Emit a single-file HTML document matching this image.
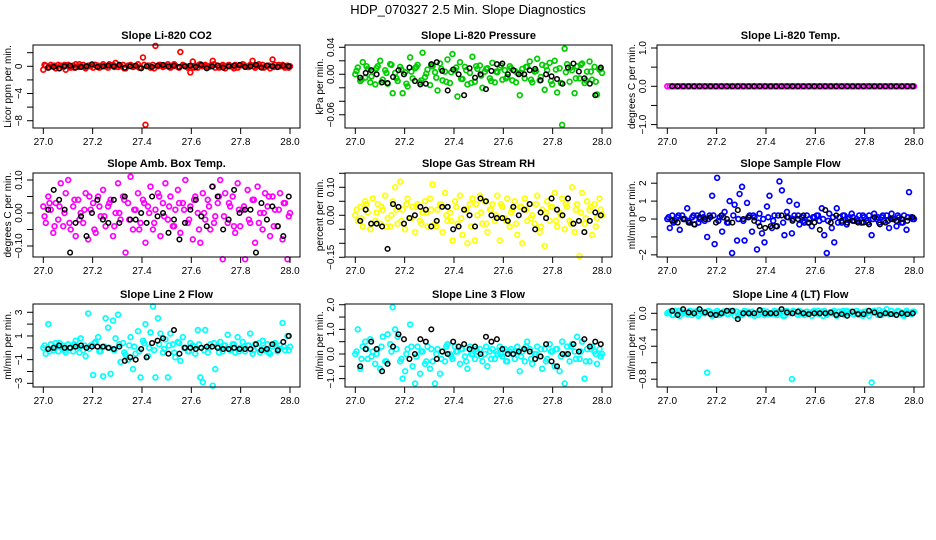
<!DOCTYPE html>
<html><head><meta charset="utf-8"><style>
html,body{margin:0;padding:0;background:#fff;}
svg{display:block;font-family:"Liberation Sans",sans-serif;}
</style></head><body>
<svg id="chart" width="936" height="540" viewBox="0 0 936 540" xmlns="http://www.w3.org/2000/svg">
<rect x="0" y="0" width="936" height="540" fill="#fff"/>
<text x="468" y="14" text-anchor="middle" font-size="13">HDP_070327  2.5 Min. Slope Diagnostics</text>
</svg>
<script>
const co2Color = [-0.5,0.1,-0.2,0.2,0,-0.3,0.2,0.1,-0.1,-0.5,0.2,-0.2,0.1,0.3,-0.1,0,0.2,-0.3,0.1,0,-0.2,0.2,0.1,-0.1,0.3,0,-0.2,0.1,0.2,0.5,-0.1,0,0.2,-0.3,0.1,0.2,-0.1,0,0.3,-0.2,1.3,-8.6,0.1,-0.2,0.2,3.0,0,0.2,-0.1,0.1,0.3,-0.2,0,0.1,-0.1,2.1,0.2,0,-0.2,-0.9,0.7,0.1,-0.2,0.3,0,0.2,-0.1,0.1,0.8,-0.2,0.1,0,0.2,-0.3,0.1,0,-0.1,0.2,-0.2,0.1,0.3,0,-0.1,0.2,0.8,-0.2,0.1,0,0.2,-0.1,0.1,-0.3,1.0,0.2,-0.1,0,0.2,-0.2,0.1,0];
const co2Band = [0.2,-0.1,0.1,-0.3,0.2,0,-0.2,0.3,-0.1,0.1,0.2,-0.2,0,0.3,-0.1,0.2,-0.3,0.1,0,-0.2,0.2,0.1,-0.3,0.2,0,-0.1,0.3,-0.2,0.1,0,-0.2,0.2,0.1,-0.1,0.3,-0.2,0,0.2,-0.3,0.1,0.2,-0.1,0,0.3,-0.2,0.1,-0.1,0.2,0,-0.2];
const co2Black = [-0.2,-0.1,-0.3,0,0.1,-0.2,-0.1,0,0.3,-0.1,0,0.1,0,0.2,-0.2,0,0.1,-0.3,0,-0.1,0.1,0.2,0,0.1,-0.1,0,0.1,-0.1,0.2,-0.3,0,0.1,-0.2,0,0.1,0.2,-0.1,0,0.2,-0.2,0.1,0,-0.1,0.1,0];
const presColor = [0.00,0.01,-0.01,0.018,-0.005,0.008,-0.012,0.004,-0.015,0.012,0.02,-0.008,0.006,-0.014,0.015,-0.028,0.002,-0.01,0.011,-0.028,0.003,-0.018,0.025,-0.006,0.009,0.014,-0.012,0.032,-0.004,0.007,-0.016,0.012,0.003,-0.024,0.016,-0.009,0.004,0.022,-0.013,0.03,0.006,-0.033,0.018,-0.007,0.011,-0.015,0.002,0.026,-0.011,0.008,0.013,-0.02,0.004,0.009,-0.006,0.017,-0.012,0.003,0.01,-0.008,0.006,-0.004,0.012,-0.009,0.005,0.002,-0.031,0.008,-0.006,0.011,0.019,-0.012,0.004,0.023,-0.009,0.014,-0.023,0.006,0.017,-0.015,0.02,-0.027,0.009,-0.075,0.038,0.015,-0.011,0.006,-0.028,0.012,-0.006,0.016,-0.013,0.004,0.019,-0.008,0.011,-0.03,0.007,0.002];
const presBand = [0.005,-0.008,0.012,-0.003,0.009,-0.012,0.002,0.014,-0.006,0.007,-0.014,0.004,0.011,-0.009,0.001,0.013,-0.005,0.008,-0.011,0.003,0.01,-0.007,0.006,-0.013,0.012,-0.002,0.008,-0.01,0.004,0.013,-0.006,0.009,-0.012,0.002,0.011,-0.008,0.005,-0.004,0.012,-0.01,0.007,-0.013,0.003,0.01,-0.006,0.014,-0.009,0.004,-0.011,0.008];
const presBlack = [-0.005,0.002,0.006,0,-0.012,-0.013,-0.004,0.006,0.0,0.01,-0.01,-0.015,-0.014,0.015,0.018,0.005,-0.024,0.007,0.0,-0.031,0.009,-0.005,0.0,-0.022,0.005,0.015,0.016,0.0,0.006,0.0,0.0,0.006,0.008,-0.009,0.0,-0.003,-0.007,-0.014,0.01,0.016,0.004,-0.006,-0.014,-0.031,0.01];
const tempColor = [0,0,0,0,0,0,0,0,0,0,0,0,0,0,0,0,0,0,0,0,0,0,0,0,0,0,0,0,0,0,0,0,0,0,0,0,0,0,0,0,0,0,0,0,0,0,0,0,0,0,0,0,0,0,0,0,0,0,0,0,0,0,0,0,0,0,0,0,0,0,0,0,0,0,0,0,0,0,0,0,0,0,0,0,0,0,0,0,0,0,0,0,0,0,0,0,0,0,0,0];
const tempBand = [];
const tempBlack = [0,0,0,0,0,0,0,0,0,0,0,0,0,0,0,0,0,0,0,0,0,0,0,0,0,0,0,0,0,0,0,0,0,0,0,0,0,0,0,0,0,0,0,0,0];
const ambColor = [0.02,-0.03,0.05,0.01,-0.06,0.03,-0.02,0.09,-0.04,0.06,0.1,-0.05,0.02,-0.07,0.04,0.0,-0.03,0.06,-0.08,0.01,0.03,-0.06,0.05,-0.01,0.07,-0.04,0.02,0.04,-0.07,0.0,0.09,-0.02,0.05,-0.12,0.03,0.11,-0.05,0.01,0.06,-0.03,0.04,-0.09,0.02,0.08,-0.05,0.01,0.06,-0.07,0.03,0.09,-0.02,0.05,-0.04,0.01,0.07,-0.06,0.03,0.1,-0.03,0.02,-0.08,0.05,0.0,-0.09,0.06,-0.02,0.04,-0.05,0.08,-0.01,0.03,0.1,-0.14,0.06,-0.03,0.02,0.05,-0.06,0.09,-0.04,0.01,-0.14,0.07,-0.03,0.04,-0.09,0.08,0.0,-0.05,0.06,0.02,-0.07,0.05,0.01,-0.04,0.06,-0.08,0.03,-0.14,0.0];
const ambBand = [-0.01,0.03,-0.04,0.02,0.0,-0.03,0.04,-0.02,0.01,0.05,-0.05,0.02,-0.01,0.03,-0.04,0.0,0.04,-0.02,0.01,-0.05,0.03,0.0,-0.03,0.05,-0.01,0.02,-0.04,0.03,0.01,-0.02,0.04,-0.05,0.0,0.02,-0.03,0.05,-0.01,0.03,-0.04,0.01,0.02,-0.02,0.04,-0.03,0.0,0.05,-0.04,0.01,0.03,-0.01];
const ambBlack = [0.01,0.07,0.04,0.01,-0.12,-0.03,-0.01,-0.07,0.0,0.04,-0.02,-0.03,0.04,-0.03,0.05,-0.02,-0.02,0.0,-0.03,0.05,-0.01,0.0,-0.06,-0.02,-0.08,-0.03,0.01,0.04,-0.01,-0.04,0.08,0.05,-0.05,-0.02,0.07,0.0,0.01,0.01,-0.12,0.03,-0.02,0.02,-0.04,-0.07,0.05];
const rhColor = [0.0,-0.02,0.03,-0.04,0.05,0.01,-0.05,0.06,-0.02,0.04,-0.03,0.02,0.07,-0.01,-0.04,0.05,0.1,-0.03,0.12,0.02,-0.05,0.06,-0.01,0.03,-0.06,0.04,-0.02,0.01,0.05,-0.04,0.06,0.11,-0.03,0.02,0.04,-0.06,0.08,-0.02,0.01,-0.09,0.05,-0.03,0.07,-0.07,0.02,-0.1,0.04,0.06,-0.09,0.0,0.07,-0.03,0.05,-0.06,0.02,0.04,-0.02,0.07,-0.09,0.03,-0.01,0.06,-0.04,0.02,0.05,-0.07,0.03,-0.1,0.06,-0.02,0.04,0.0,-0.03,0.07,-0.06,0.02,-0.11,0.05,-0.02,0.03,0.08,-0.04,0.01,0.06,-0.05,0.03,-0.02,0.1,-0.06,0.04,-0.145,0.08,-0.03,0.05,0.02,-0.07,0.04,-0.01,0.06,0.0];
const rhBand = [0.02,-0.01,0.04,-0.03,0.01,0.03,-0.04,0.0,0.02,-0.02,0.04,-0.01,0.03,-0.03,0.01,0.02,-0.04,0.04,0.0,-0.02,0.03,-0.01,0.02,-0.04,0.04,0.01,-0.03,0.02,0.0,0.04,-0.02,0.01,-0.03,0.03,0.02,-0.01,0.04,-0.04,0.01,0.03,-0.02,0.0,0.04,-0.03,0.02,0.01,-0.01,0.03,-0.04,0.02];
const rhBlack = [-0.02,0.02,-0.03,-0.03,-0.04,-0.12,0.04,0.03,-0.03,-0.01,0.0,0.03,0.02,-0.04,-0.02,0.03,0.03,-0.05,-0.04,0.02,0.0,-0.04,0.06,0.05,0.0,-0.01,-0.01,-0.02,0.03,0.0,0.02,0.04,-0.05,0.01,-0.01,0.06,0.02,0.0,0.06,-0.03,-0.02,-0.06,-0.02,0.01,0.0];
const sampleColor = [0.0,-0.5,0.2,-0.1,0.1,-0.6,0.2,0.0,0.6,-0.2,0.1,-0.3,0.2,0.0,0.3,-0.1,-1.0,0.2,1.3,-1.4,2.3,0.1,-0.7,0.4,-0.2,1.0,-1.9,0.8,-1.2,1.4,1.8,-1.2,0.9,0.2,-0.7,0.1,-1.7,0.3,-0.8,-1.3,0.7,1.3,-0.5,0.2,-0.4,2.1,1.6,-0.9,0.4,1.0,-0.8,0.2,0.8,-0.3,0.1,-0.2,0.2,0.0,-0.4,0.1,0.2,-0.1,0.6,-0.9,-1.9,0.3,-0.5,-1.3,0.6,0.1,-0.2,0.2,-0.3,0.1,0.3,-0.1,0.0,0.2,-0.2,0.1,-0.1,0.2,-0.9,0.3,0.0,-0.2,0.1,-0.1,0.2,-0.5,0.3,0.0,-0.4,0.1,-0.2,0.2,-0.6,1.5,0.1,0.0];
const sampleBand = [0.1,-0.2,0.2,0.0,-0.1,0.2,-0.2,0.1,0.0,0.2,-0.1,0.1,-0.2,0.2,0.0,-0.1,0.1,0.2,-0.2,0.0,0.1,-0.1,0.2,-0.2,0.1,0.0,0.2,-0.1,-0.2,0.1,0.2,0.0,-0.1,0.1,-0.2,0.2,0.0,0.1,-0.1,0.2,-0.2,0.0,0.1,0.2,-0.1,0.0,0.2,-0.2,0.1,0.0];
const sampleBlack = [-0.1,-0.2,0.0,-0.2,-0.3,0.1,0.0,0.1,-0.2,0.2,0.0,-0.2,0.5,0.0,0.1,-0.1,-0.4,-0.5,-0.4,-0.4,0.2,0.1,-0.1,0.0,0.2,-0.2,-0.2,-0.6,0.5,-0.2,0.2,-0.1,-0.2,-0.1,-0.2,-0.2,-0.3,0.1,-0.3,-0.2,0.0,-0.1,0.0,-0.1,0.1];
const line2Color = [0.0,-0.5,2.0,0.3,-0.2,0.4,-0.3,0.1,0.2,-0.4,0.3,0.0,-0.3,0.6,0.1,0.8,-0.2,-0.7,2.9,0.2,-2.3,0.5,0.9,-0.3,-2.4,2.5,1.7,-2.2,2.3,0.8,2.8,-1.2,0.4,-0.6,-1.0,0.9,-1.8,-0.5,1.4,-2.5,0.6,2.0,-0.7,1.3,3.5,-2.5,2.5,1.2,-0.4,0.7,-2.5,1.2,0.3,-0.8,0.5,-1.1,0.9,0.0,-0.3,0.4,0.2,-0.5,1.5,-2.5,-2.9,1.5,-0.4,0.3,-3.2,-1.8,0.1,0.5,-0.3,0.2,1.1,-0.2,0.3,-0.4,0.9,0.0,0.5,-0.3,0.2,1.2,-0.5,0.3,0.0,-0.4,0.6,-0.2,0.3,-0.5,0.1,0.4,-0.3,0.2,2.1,-0.2,1.0,0.1];
const line2Band = [0.2,-0.3,0.1,0.4,-0.2,0.0,0.3,-0.4,0.2,-0.1,0.4,-0.3,0.1,0.0,-0.2,0.3,-0.4,0.2,0.1,-0.3,0.4,0.0,-0.2,0.3,-0.1,0.2,-0.4,0.4,0.0,-0.3,0.1,0.3,-0.2,0.0,0.4,-0.4,0.2,-0.1,0.3,-0.3,0.1,0.2,-0.2,0.4,0.0,-0.4,0.3,-0.1,0.1,-0.2];
const line2Black = [-0.1,0.0,0.2,0.0,0.0,0.1,0.2,0.0,0.1,0.1,0.1,0.0,-0.1,0.1,-1.1,-0.8,-1.0,-0.1,-0.8,0.4,0.6,0.8,-0.5,1.5,-0.5,0.0,0.0,-0.1,0.0,0.1,0.1,0.0,-0.1,-0.1,0.0,-0.1,-0.1,-0.1,0.3,-0.2,-0.1,0.3,-0.2,0.5,1.0];
const line3Color = [0.0,1.0,-0.6,0.3,0.5,-0.2,0.6,0.1,-0.4,0.2,-0.6,0.7,-0.3,0.8,0.4,1.9,1.0,0.7,-0.3,-1.0,-0.7,0.2,1.2,-0.5,-1.2,0.3,-0.8,0.1,-0.4,0.3,-0.6,-0.3,-1.2,0.2,-0.8,0.1,-0.3,0.4,0.0,-0.2,0.3,0.1,-0.4,0.2,-0.1,-0.6,0.3,0.0,-0.2,0.1,0.2,-0.3,0.0,-0.5,0.1,0.2,-0.2,0.0,0.3,-0.1,0.2,-0.3,0.1,0.0,-0.2,0.3,-0.7,0.1,-0.3,0.5,0.2,-0.4,0.0,0.3,-0.1,-0.6,0.2,-0.2,0.4,0.1,-0.5,0.2,-0.7,0.5,-1.2,0.3,-0.3,0.4,0.1,0.7,-0.2,0.5,-1.0,0.2,-0.3,0.3,0.1,-0.4,0.2,0.0];
const line3Band = [0.1,-0.2,0.2,-0.1,0.0,0.3,-0.3,0.1,0.2,-0.2,0.0,0.3,-0.1,0.1,-0.3,0.2,0.0,-0.2,0.3,-0.1,0.1,0.2,-0.3,0.0,0.2,-0.1,0.3,-0.2,0.1,0.0,-0.3,0.2,0.1,-0.1,0.3,-0.2,0.0,0.2,-0.3,0.1,0.2,-0.1,0.0,0.3,-0.2,0.1,-0.3,0.2,0.0,-0.1];
const line3Black = [-0.5,0.2,0.5,0.2,-0.7,-0.4,0.3,0.8,0.6,-0.2,0.0,0.6,0.5,1.0,-0.2,0.1,0.0,0.5,0.3,0.4,0.2,0.3,0.0,0.7,0.5,0.6,0.2,0.0,0.0,0.1,0.2,0.1,-0.2,-0.1,0.4,-0.3,-0.5,0.0,0.0,0.4,0.1,0.6,0.3,0.5,0.4];
const line4Color = [0.0,0.02,-0.02,0.03,0.0,-0.03,0.02,0.01,-0.01,0.03,-0.02,0.01,0.03,-0.01,0.02,0.0,-0.72,0.02,-0.03,0.01,0.03,-0.02,0.0,0.02,-0.01,0.03,0.01,-0.03,0.02,0.0,-0.02,0.03,0.01,-0.01,0.02,-0.03,0.0,0.03,0.01,-0.02,0.02,0.0,-0.01,0.03,-0.02,0.01,0.02,-0.03,0.03,0.0,-0.8,0.02,-0.01,0.03,0.0,-0.02,0.02,0.01,-0.03,0.03,0.0,-0.01,0.02,0.03,-0.02,0.01,0.0,0.03,-0.03,0.02,0.01,-0.02,0.03,0.0,0.02,-0.01,0.03,-0.02,0.01,0.02,0.0,-0.03,-0.84,0.03,0.01,0.04,-0.02,0.02,0.05,-0.01,0.03,0.0,-0.02,0.02,0.01,-0.03,0.03,0.0,-0.01,0.02];
const line4Band = [0.01,-0.02,0.03,0.0,-0.01,0.02,-0.03,0.01,0.03,-0.02,0.0,0.02,-0.01,0.03,-0.03,0.01,0.02,0.0,-0.02,0.03,-0.01,0.01,0.02,-0.03,0.0,0.03,-0.02,0.01,-0.01,0.02,0.03,-0.03,0.0,0.01,-0.02,0.03,0.02,-0.01,0.0,-0.03,0.03,0.01,-0.02,0.02,0.0,-0.01,0.03,-0.02,0.01,0.02];
const line4Black = [0.03,-0.02,0.05,0.01,0.0,0.05,0.01,-0.01,-0.02,0.0,0.03,0.03,-0.07,0.0,0.0,0.0,0.04,0.0,0.0,0.0,0.05,0.01,0.0,0.02,0.0,-0.01,0.0,0.0,0.0,0.01,-0.02,-0.01,-0.03,0.02,-0.01,-0.01,0.03,0.01,-0.02,0.0,-0.01,-0.02,0.0,-0.01,0.0];
const xTicks = [27.0,27.2,27.4,27.6,27.8,28.0];
const xTickLabels = ["27.0","27.2","27.4","27.6","27.8","28.0"];
const panelTitles = ["Slope Li-820 CO2","Slope Li-820 Pressure","Slope Li-820 Temp.","Slope Amb. Box Temp.","Slope Gas Stream RH","Slope Sample Flow","Slope Line 2 Flow","Slope Line 3 Flow","Slope Line 4 (LT) Flow"];
const yTitles = ["Licor ppm per min.","kPa per min.","degrees C per min.","degrees C per min.","percent per min.","ml/min per min.","ml/min per min.","ml/min per min.","ml/min per min."];
const yDomains = [[-9.07,3.13],[-0.0796,0.0434],[-1.089,1.078],[-0.1333,0.1212],[-0.149,0.151],[-2.12,2.57],[-3.31,3.70],[-1.34,2.03],[-0.895,0.113]];
const yTicks = [[2,0,-2,-4,-6,-8],[0.04,0.02,0,-0.02,-0.04,-0.06],[1,0.5,0,-0.5,-1],[0.1,0.05,0,-0.05,-0.1],[0.15,0.1,0.05,0,-0.05,-0.1,-0.15],[2,1,0,-1,-2],[3,2,1,0,-1,-2,-3],[2,1.5,1,0.5,0,-0.5,-1],[0,-0.2,-0.4,-0.6,-0.8]];
const yLabelVals = [[0,-4,-8],[0.04,0,-0.06],[1,0,-1],[0.1,0,-0.1],[0.1,0,-0.15],[2,1,0,-2],[3,1,-1,-3],[2,1,0,-1],[0,-0.4,-0.8]];
const yLabelText = [["0","\u22124","\u22128"],["0.04","0.00","\u22120.06"],["1.0","0.0","\u22121.0"],["0.10","0.00","\u22120.10"],["0.10","0.00","\u22120.15"],["2","1","0","\u22122"],["3","1","\u22121","\u22123"],["2.0","1.0","0.0","\u22121.0"],["0.0","\u22120.4","\u22120.8"]];
const colorSeries = [co2Color,presColor,tempColor,ambColor,rhColor,sampleColor,line2Color,line3Color,line4Color];
const bandSeries = [co2Band,presBand,tempBand,ambBand,rhBand,sampleBand,line2Band,line3Band,line4Band];
const blackSeries = [co2Black,presBlack,tempBlack,ambBlack,rhBlack,sampleBlack,line2Black,line3Black,line4Black];
const seriesColors = ["#ff0000","#00cd00","#ff00ff","#ff00ff","#ffff00","#0000ff","#00ffff","#00ffff","#00ffff"];
const panelNames = ["co2","pressure","licor-temp","amb-box-temp","gas-stream-rh","sample-flow","line-2-flow","line-3-flow","line-4-flow"];

const NS = "http://www.w3.org/2000/svg";
const svg = document.getElementById("chart");
const colLeft = [33,345,657], colRight = [300,612,924];
const x27 = [43.3,355.3,667.3], x28 = [290,602,914];
const rowTop = [45,173,304], rowBot = [128,257,387];
function mk(tag, attrs, parent){const e=document.createElementNS(NS,tag);for(const k in attrs)e.setAttribute(k,attrs[k]);(parent||svg).appendChild(e);return e;}

for(let p=0;p<9;p++){
  const c=p%3, r=Math.floor(p/3);
  const L=colLeft[c], R=colRight[c], T=rowTop[r], B=rowBot[r];
  const dom=yDomains[p];
  const xs=v=>x27[c]+(v-27)*(x28[c]-x27[c]);
  const ys=v=>B-(v-dom[0])/(dom[1]-dom[0])*(B-T);
  const g=mk("g",{});
  
  
  const t=mk("text",{x:(L+R)/2,y:T-6,"text-anchor":"middle","font-size":"11","font-weight":"bold"},g);
  t.textContent=panelTitles[p];
  
  
  const pts=mk("g",{fill:"none"},g);
  
  
  const cs=colorSeries[p];
  for(let i=0;i<cs.length;i++){
    const xv=27+i/(cs.length-1);
    const ci=mk("circle",{cx:xs(xv),cy:ys(cs[i]),r:2.4,stroke:seriesColors[p],"stroke-width":1.7},pts);
    
    
  }
  const bd=bandSeries[p];
  for(let i=0;i<bd.length;i++){
    const xv=27.005+i*(0.99/(bd.length-1));
    const ci=mk("circle",{cx:xs(xv),cy:ys(bd[i]),r:2.4,stroke:seriesColors[p],"stroke-width":1.7},pts);
    
    
  }
  const bs=blackSeries[p];
  for(let i=0;i<bs.length;i++){
    const xv=27.02+i*(0.975/(bs.length-1));
    const ci=mk("circle",{cx:xs(xv),cy:ys(bs[i]),r:2.3,stroke:"#000","stroke-width":1.5},pts);
    
    
  }
  const box=mk("rect",{x:L,y:T,width:R-L,height:B-T,fill:"none",stroke:"#000","stroke-width":1},g);
  
  
  const xa=mk("g",{},g);
  
  
  mk("line",{x1:xs(27),x2:xs(28),y1:B,y2:B,stroke:"#000"},xa);
  for(let i=0;i<xTicks.length;i++){
    const X=xs(xTicks[i]);
    mk("line",{x1:X,x2:X,y1:B,y2:B+6,stroke:"#000"},xa);
    const tl=mk("text",{x:X,y:B+17,"text-anchor":"middle","font-size":"10"},xa);
    tl.textContent=xTickLabels[i];
    
    
  }
  const ya=mk("g",{},g);
  
  
  const yt=yTicks[p];
  mk("line",{x1:L,x2:L,y1:ys(yt[0]),y2:ys(yt[yt.length-1]),stroke:"#000"},ya);
  for(const v of yt){const Y=ys(v);mk("line",{x1:L-6,x2:L,y1:Y,y2:Y,stroke:"#000"},ya);}
  const lv=yLabelVals[p];
  for(let i=0;i<lv.length;i++){
    const Y=ys(lv[i]), X=L-11;
    const tl=mk("text",{x:X,y:Y,"text-anchor":"middle","font-size":"10",transform:`rotate(-90 ${X} ${Y})`},ya);
    tl.textContent=yLabelText[p][i];
    
    
  }
  const TX=L-25, TY=(T+B)/2;
  const at=mk("text",{x:TX,y:TY+3,"text-anchor":"middle","font-size":"10",transform:`rotate(-90 ${TX} ${TY})`},g);
  at.textContent=yTitles[p];
  
  
}
</script>
</body></html>
